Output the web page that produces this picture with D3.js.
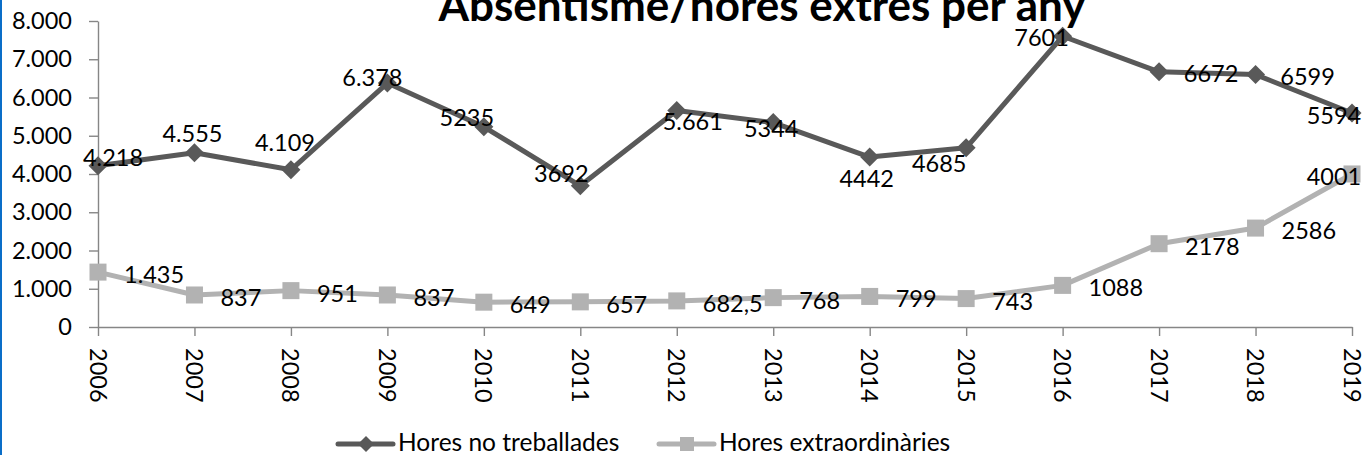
<!DOCTYPE html>
<html>
<head>
<meta charset="utf-8">
<script src="https://cdn.jsdelivr.net/npm/d3@7"></script>
<style>
  html, body { margin: 0; padding: 0; background: #fff; }
  svg { display: block; }
  text { font-family: Lato, "Open Sans", sans-serif; }
</style>
</head>
<body>
<script>
// ---------- data ----------
const years = ["2006","2007","2008","2009","2010","2011","2012","2013","2014","2015","2016","2017","2018","2019"];
const horesNoTreballades = [4218, 4555, 4109, 6378, 5235, 3692, 5661, 5344, 4442, 4685, 7601, 6672, 6599, 5594];
const horesExtraordinaries = [1435, 837, 951, 837, 649, 657, 682.5, 768, 799, 743, 1088, 2178, 2586, 4001];
const labelsNoTreballades = ["4.218","4.555","4.109","6.378","5235","3692","5.661","5344","4442","4685","7601","6672","6599","5594"];
const labelsExtraordinaries = ["1.435","837","951","837","649","657","682,5","768","799","743","1088","2178","2586","4001"];
const yTickValues = [0, 1000, 2000, 3000, 4000, 5000, 6000, 7000, 8000];
const yTickLabels = ["0","1.000","2.000","3.000","4.000","5.000","6.000","7.000","8.000"];
const seriesNames = ["Hores no treballades", "Hores extraordinàries"];
const titleText = "Absentisme/hores extres per any";

// label placement (offset of label centre from its point, px)
const offsetsNoTreballades = [[15,-9],[-2,-20],[-6,-28],[-15,-6],[-17,-10],[-19,-13],[16,11],[-2,5],[-3,21],[-27,15],[-21,1],[52,1],[52,1],[-18,2]];

// ---------- layout ----------
const W = 1365, H = 455;
const FS = 23.5;
const c1 = "#595959", c2 = "#b2b2b2", axisC = "#868686";

const svg = d3.select("body").append("svg").attr("width", W).attr("height", H);
svg.append("rect").attr("x", 0).attr("y", 0).attr("width", W).attr("height", H).attr("fill", "#fff");
svg.append("rect").attr("x", 0).attr("y", 0).attr("width", 2).attr("height", H).attr("fill", "#0a6ec8");

const x = d3.scalePoint().domain(years).range([98, 1352]);
const y = d3.scaleLinear().domain([0, 8000]).range([327, 21]);

// title
svg.append("text").attr("x", 762).attr("y", 21).attr("text-anchor", "middle")
  .attr("font-size", 44).attr("font-weight", "bold").attr("fill", "#000").text(titleText);

// y axis
const yAxis = svg.append("g").attr("transform", "translate(98,0)")
  .call(d3.axisLeft(y).tickValues(yTickValues).tickFormat((d, i) => yTickLabels[i]).tickSize(9).tickSizeOuter(0).tickPadding(17));
yAxis.select(".domain").attr("stroke", axisC).attr("stroke-width", 1.4);
yAxis.selectAll(".tick line").attr("stroke", axisC).attr("stroke-width", 1.4);
yAxis.selectAll(".tick text").attr("font-size", FS).attr("fill", "#000").attr("font-family", "Lato");

// x axis
const xAxis = svg.append("g").attr("transform", "translate(0,327)")
  .call(d3.axisBottom(x).tickSize(9).tickSizeOuter(0));
xAxis.select(".domain").attr("stroke", axisC).attr("stroke-width", 1.4);
xAxis.selectAll(".tick line").attr("stroke", axisC).attr("stroke-width", 1.4);
xAxis.selectAll(".tick text")
  .attr("font-size", FS).attr("fill", "#000").attr("font-family", "Lato")
  .attr("text-anchor", "start").attr("dy", null).attr("y", 0).attr("x", 0)
  .attr("dominant-baseline", "central")
  .attr("transform", "translate(0,21) rotate(90)");

// lines
const line = vals => d3.line().x((d, i) => x(years[i])).y(d => y(d))(vals);
svg.append("path").attr("d", line(horesExtraordinaries)).attr("fill", "none").attr("stroke", c2).attr("stroke-width", 5).attr("stroke-linejoin", "round");
svg.append("path").attr("d", line(horesNoTreballades)).attr("fill", "none").attr("stroke", c1).attr("stroke-width", 5).attr("stroke-linejoin", "round");

// markers
const sq = 17, dm = 9.5;
svg.append("g").selectAll("rect").data(horesExtraordinaries).join("rect")
  .attr("x", (d, i) => x(years[i]) - sq / 2).attr("y", d => y(d) - sq / 2)
  .attr("width", sq).attr("height", sq).attr("fill", c2);
svg.append("g").selectAll("path").data(horesNoTreballades).join("path")
  .attr("d", (d, i) => { const cx = x(years[i]), cy = y(d); return `M${cx},${cy - dm}L${cx + dm},${cy}L${cx},${cy + dm}L${cx - dm},${cy}Z`; })
  .attr("fill", c1);

// data labels
svg.append("g").selectAll("text").data(horesExtraordinaries).join("text")
  .attr("x", (d, i) => i === years.length - 1 ? x(years[i]) - 18 : x(years[i]) + 26)
  .attr("y", d => y(d) + 2)
  .attr("text-anchor", (d, i) => i === years.length - 1 ? "middle" : "start")
  .attr("dominant-baseline", "central")
  .attr("font-size", FS).attr("fill", "#000")
  .text((d, i) => labelsExtraordinaries[i]);
svg.append("g").selectAll("text").data(horesNoTreballades).join("text")
  .attr("x", (d, i) => x(years[i]) + offsetsNoTreballades[i][0])
  .attr("y", (d, i) => y(d) + offsetsNoTreballades[i][1])
  .attr("text-anchor", "middle")
  .attr("dominant-baseline", "central")
  .attr("font-size", FS).attr("fill", "#000")
  .text((d, i) => labelsNoTreballades[i]);

// legend
const leg = svg.append("g");
const legItems = [
  {name: seriesNames[0], color: c1, x0: 338, shape: "diamond"},
  {name: seriesNames[1], color: c2, x0: 659, shape: "square"}
];
legItems.forEach(it => {
  const ly = 444;
  leg.append("line").attr("x1", it.x0).attr("x2", it.x0 + 55).attr("y1", ly).attr("y2", ly)
    .attr("stroke", it.color).attr("stroke-width", 5).attr("stroke-linecap", "round");
  const cx = it.x0 + 28;
  if (it.shape === "diamond") {
    leg.append("path").attr("d", `M${cx},${ly - 8}L${cx + 8},${ly}L${cx},${ly + 8}L${cx - 8},${ly}Z`).attr("fill", it.color);
  } else {
    leg.append("rect").attr("x", cx - 7).attr("y", ly - 7).attr("width", 14).attr("height", 14).attr("fill", it.color);
  }
  leg.append("text").attr("x", it.x0 + 60).attr("y", 451).attr("font-size", 24.5).attr("fill", "#000").text(it.name);
});
</script>
</body>
</html>
